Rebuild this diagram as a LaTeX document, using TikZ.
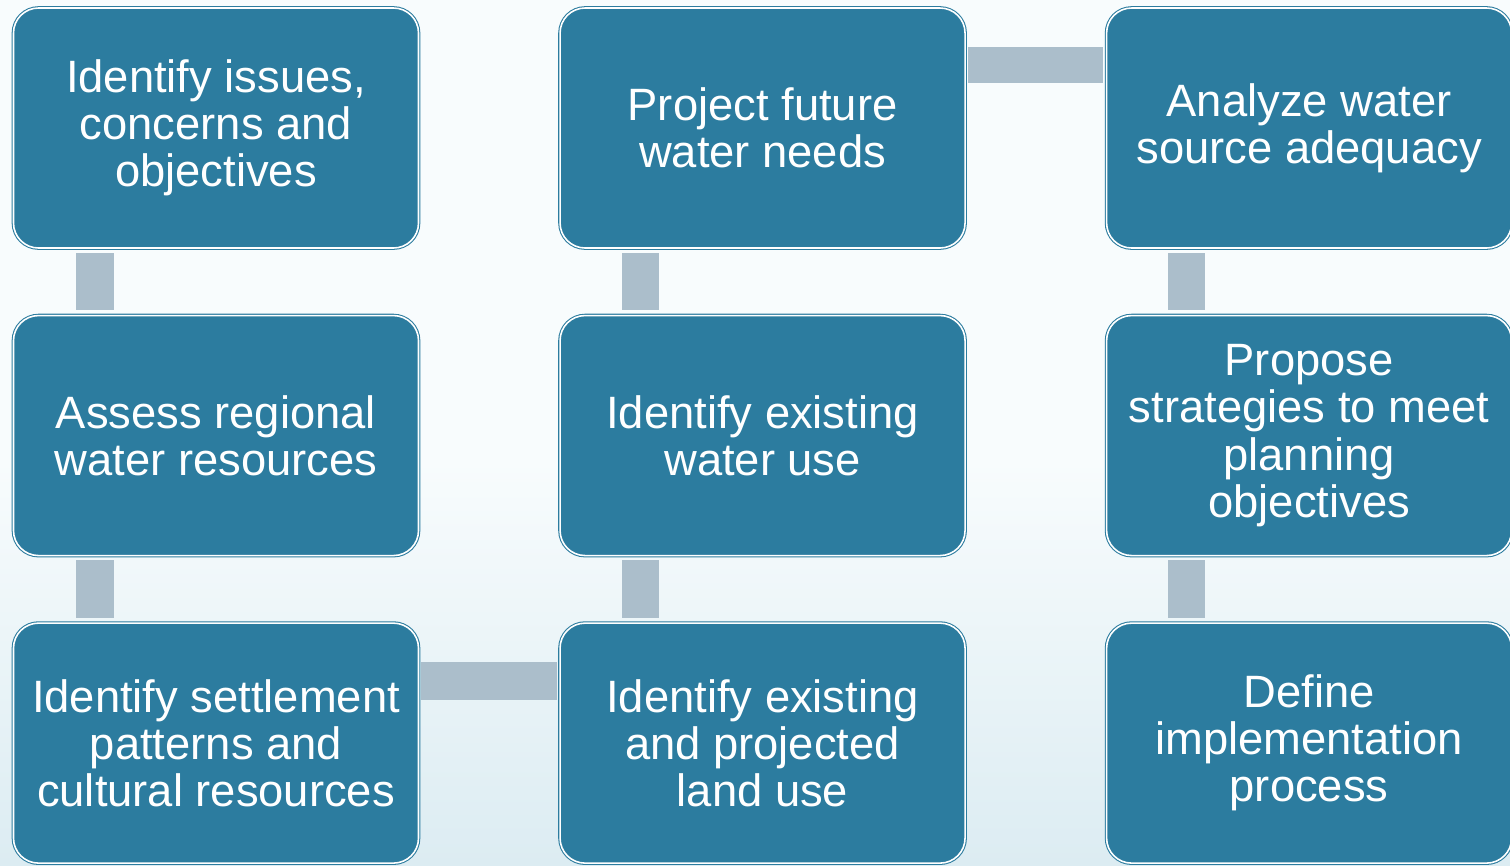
\documentclass[tikz,border=0pt]{standalone}
\usepackage{fontspec}
\setmainfont{Liberation Sans}
\usepackage{tikz}
\usetikzlibrary{calc, positioning}
\definecolor{boxblue}{HTML}{2C7C9F}
\definecolor{linkgray}{HTML}{ABBECB}
\definecolor{bgtop}{HTML}{F8FCFD}
\definecolor{bgbottom}{HTML}{DCECF2}
\tikzstyle{stage} = [rectangle, rounded corners=0.25cm, minimum width=4.05cm, minimum height=2.40cm, inner sep=0pt, align=center, text=white, fill=boxblue, draw=boxblue, line width=0.3pt, double=white, double distance=0.45pt, font=\fontsize{12.9pt}{13.4pt}\selectfont]
\tikzstyle{link} = [fill=linkgray]

\begin{document}
\begin{tikzpicture}[node distance = 0.665cm and 1.405cm]

		\useasboundingbox (0,0) rectangle (15.10,-8.65);
		\fill[bgtop] (0,0) rectangle (15.10,-8.65);
		\shade[top color=bgtop, bottom color=bgbottom] (0,-4.6) rectangle (15.10,-8.65);

		\node (Issues) [stage] at (2.16,-1.28) {Identify issues,\\concerns and\\objectives};
		\node (Assess) [stage, below = of Issues] {Assess regional\\water resources};
		\node (Settlement) [stage, below = of Assess] {Identify settlement\\patterns and\\cultural resources};
		\node (LandUse) [stage, right = of Settlement] {Identify existing\\and projected\\land use};
		\node (WaterUse) [stage, above = of LandUse] {Identify existing\\water use};
		\node (Future) [stage, above = of WaterUse] {Project future\\water needs};
		\node (Adequacy) [stage, right = of Future] {Analyze water\\source adequacy};
		\node (Strategies) [stage, below = of Adequacy] {Propose\\strategies to meet\\planning\\objectives};
		\node (Implementation) [stage, below = of Strategies] {Define\\implementation\\process};

		% connectors between the stages
		\fill[link] ($(Issues.south west)+(0.63,-0.04)$) rectangle ($(Assess.north west)+(1.01,0.05)$);
		\fill[link] ($(Assess.south west)+(0.63,-0.04)$) rectangle ($(Settlement.north west)+(1.01,0.05)$);
		\fill[link] ($(Settlement.north east)+(0.02,-0.39)$) rectangle ($(LandUse.north west)+(-0.03,-0.77)$);
		\fill[link] ($(WaterUse.south west)+(0.62,-0.04)$) rectangle ($(LandUse.north west)+(0.99,0.05)$);
		\fill[link] ($(Future.south west)+(0.62,-0.04)$) rectangle ($(WaterUse.north west)+(0.99,0.05)$);
		\fill[link] ($(Future.north east)+(0.02,-0.40)$) rectangle ($(Adequacy.north west)+(-0.03,-0.76)$);
		\fill[link] ($(Adequacy.south west)+(0.62,-0.04)$) rectangle ($(Strategies.north west)+(0.99,0.05)$);
		\fill[link] ($(Strategies.south west)+(0.62,-0.04)$) rectangle ($(Implementation.north west)+(0.99,0.05)$);

\end{tikzpicture}
\end{document}
